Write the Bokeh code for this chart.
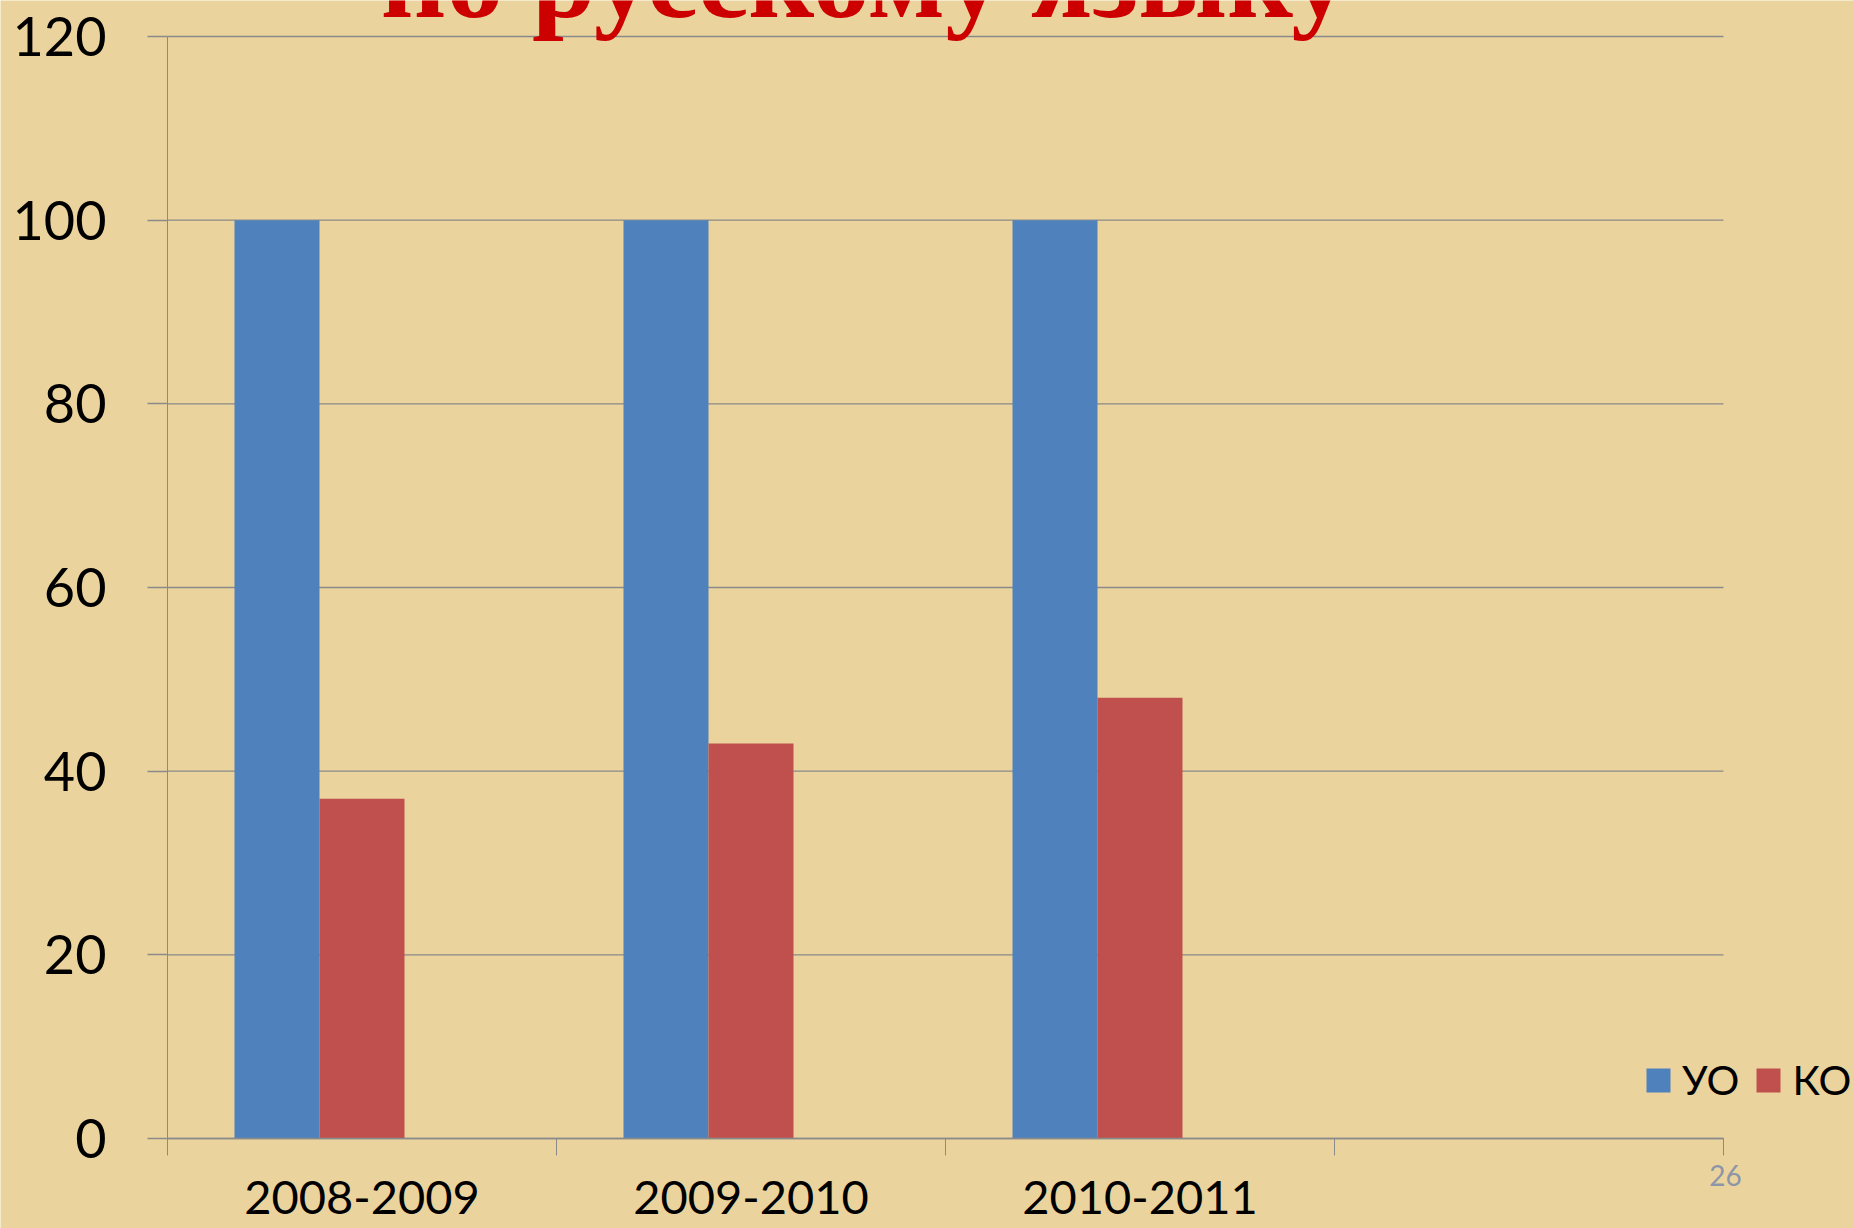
from bokeh.plotting import figure
from bokeh.models import Range1d, FixedTicker, Label, Legend, LegendItem, LinearAxis
from bokeh.embed import file_html
from bokeh.resources import INLINE

# ---- data ----
categories = ["2008-2009", "2009-2010", "2010-2011", ""]
series_names = ["УО", "КО"]
uo_values = [100, 100, 100]
ko_values = [37, 43, 48]
y_ticks = [0, 20, 40, 60, 80, 100, 120]
y_max = 120
title_text = "по русскому языку"
slide_number = "26"

BG = "#EBD39D"
GRID = "#8A8A8A"
BLUE = "#4F81BD"
RED = "#C0504D"

W, H = 1853, 1228
# plot area in pixels (left, right, top, bottom) -> ranges so that the frame fills the canvas
PL, PR, PT, PB = 167, 1723, 36, 1138
ncat = len(categories)
xu = ncat / (PR - PL)
yu = y_max / (PB - PT)
x_range = Range1d(-PL * xu, ncat + (W - PR) * xu)
y_range = Range1d(-(H - PB) * yu, y_max + PT * yu)

p = figure(width=W, height=H, output_backend="svg", toolbar_location=None,
           x_range=x_range, y_range=y_range,
           x_axis_location=None, y_axis_location=None,
           min_border=0, min_border_left=0, min_border_right=0,
           min_border_top=0, min_border_bottom=0)
p.background_fill_color = BG
p.border_fill_color = BG
p.outline_line_color = None
p.xgrid.visible = False
p.ygrid.visible = False

# horizontal grid lines limited to the plot area
p.segment(x0=[0] * len(y_ticks), x1=[ncat] * len(y_ticks), y0=y_ticks, y1=y_ticks,
          line_color=GRID, line_width=1.3)

bar_w = 0.2185
n = len(uo_values)
x_uo = [i + 0.5 - bar_w for i in range(n)]
x_ko = [i + 0.5 for i in range(n)]
r1 = p.vbar(x=x_uo, top=uo_values, width=bar_w, bottom=0, fill_color=BLUE, line_color=None)
r2 = p.vbar(x=x_ko, top=ko_values, width=bar_w, bottom=0, fill_color=RED, line_color=None)

# x axis
xa = LinearAxis(fixed_location=0, bounds=(0, ncat))
xa.ticker = FixedTicker(ticks=[i + 0.5 for i in range(n)], minor_ticks=list(range(ncat + 1)))
xa.major_label_overrides = {i + 0.5: categories[i] for i in range(n)}
xa.major_tick_out = 0
xa.major_tick_in = 0
xa.minor_tick_out = 17
xa.minor_tick_in = 0
xa.minor_tick_line_color = GRID
xa.axis_line_color = GRID
xa.axis_line_width = 1.3
xa.major_label_text_font = "Lato"
xa.major_label_text_font_size = "47px"
xa.major_label_text_color = "black"
xa.major_label_standoff = 25
p.add_layout(xa, "below")

# y axis
ya = LinearAxis(fixed_location=0, bounds=(0, y_max))
ya.ticker = FixedTicker(ticks=y_ticks)
ya.major_tick_out = 20
ya.major_tick_in = 0
ya.minor_tick_out = 0
ya.minor_tick_in = 0
ya.major_tick_line_color = GRID
ya.major_tick_line_width = 1.3
ya.axis_line_color = GRID
ya.major_label_text_font = "Lato"
ya.major_label_text_font_size = "54px"
ya.major_label_text_color = "black"
ya.major_label_standoff = 41
p.add_layout(ya, "left")

legend = Legend(items=[LegendItem(label=series_names[0], renderers=[r1]),
                       LegendItem(label=series_names[1], renderers=[r2])],
                orientation="horizontal", location=(1643, 124),
                background_fill_alpha=0, border_line_color=None,
                padding=0, margin=0, spacing=14, label_standoff=9,
                glyph_width=30, glyph_height=30,
                label_text_font="Lato", label_text_font_size="41px",
                label_text_color="black")
p.add_layout(legend, "center")

p.add_layout(Label(x=864, y=1250, x_units="screen", y_units="screen", text=title_text,
                   text_align="center", text_baseline="alphabetic",
                   text_font="Liberation Serif", text_font_style="bold",
                   text_font_size="114px", text_color="#CC0000"))
p.add_layout(Label(x=1725, y=53, x_units="screen", y_units="screen", text=slide_number,
                   text_align="center", text_baseline="middle",
                   text_font="Lato", text_font_size="28px", text_color="#8C96A8"))

open("out.html", "w").write(file_html(p, INLINE))
